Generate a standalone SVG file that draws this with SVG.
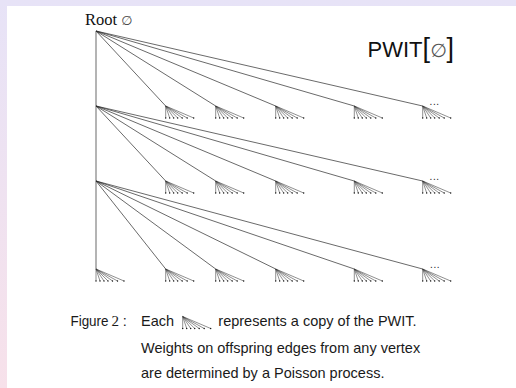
<svg xmlns="http://www.w3.org/2000/svg" xmlns:xlink="http://www.w3.org/1999/xlink" width="516" height="388" viewBox="0 0 516 388">
<defs>
<linearGradient id="bg" x1="0" y1="0" x2="0" y2="1">
<stop offset="0" stop-color="#e7e3f7"/>
<stop offset="1" stop-color="#f7e1ea"/>
</linearGradient>
<g id="sub">
<path d="M0 0V12M0 0L4 12M0 0L8 12M0 0L12 12M0 0L16.5 12M0 0L21.5 12M0 0L28 12" fill="none" stroke="#333" stroke-width="0.55"/>
<g fill="#111"><circle cx="0" cy="12" r="0.7"/><circle cx="4" cy="12" r="0.7"/><circle cx="8" cy="12" r="0.7"/><circle cx="12" cy="12" r="0.7"/><circle cx="16.5" cy="12" r="0.7"/><circle cx="21.5" cy="12" r="0.7"/><circle cx="28" cy="12" r="0.7"/></g>
</g>
</defs>
<style>
.e{stroke:#2a2a2a;stroke-width:0.7;fill:none}
.cap{font-family:"Liberation Sans",Arial,sans-serif;font-size:14.5px;fill:#1a1a1a}
.dots{font-family:"Liberation Sans",Arial,sans-serif;font-size:10px;letter-spacing:0.6px;fill:#222}
.ser{font-family:"Liberation Serif","DejaVu Serif",serif}
</style>
<rect width="516" height="388" fill="url(#bg)"/>
<rect x="7" y="6" width="509" height="382" fill="#ffffff"/>

<g id="connectors">
<path class="e" d="M96 31V269"/>
<path class="e" d="M96 31L165.7 106M96 31L215.7 106M96 31L275.7 106M96 31L354.3 106M96 31L422.7 106"/>
<path class="e" d="M96 106L165.7 181M96 106L215.7 181M96 106L275.7 181M96 106L354.3 181M96 106L422.7 181"/>
<path class="e" d="M96 181L165.7 269M96 181L215.7 269M96 181L275.7 269M96 181L354.3 269M96 181L422.7 269"/>
</g>

<g id="root">
<text class="ser" x="85" y="25" font-size="16.5" fill="#111">Root <tspan font-family="'DejaVu Sans',sans-serif" font-size="13" fill="#444">∅</tspan></text>
</g>

<g id="title">
<text y="57.3" font-family="'Liberation Sans',Arial,sans-serif" fill="#111"><tspan x="367.5" font-size="22">PWIT</tspan><tspan x="422.5" font-size="27">[</tspan><tspan x="430.2" font-family="'DejaVu Sans',sans-serif" font-size="19" fill="#555">∅</tspan><tspan x="446.5" font-size="27">]</tspan></text>
</g>

<g id="row1">
<use xlink:href="#sub" x="165.7" y="106"/>
<use xlink:href="#sub" x="215.7" y="106"/>
<use xlink:href="#sub" x="275.7" y="106"/>
<use xlink:href="#sub" x="354.3" y="106"/>
<use xlink:href="#sub" x="422.7" y="106"/>
<text class="dots" x="429.5" y="105">...</text>
</g>
<g id="row2">
<use xlink:href="#sub" x="165.7" y="181"/>
<use xlink:href="#sub" x="215.7" y="181"/>
<use xlink:href="#sub" x="275.7" y="181"/>
<use xlink:href="#sub" x="354.3" y="181"/>
<use xlink:href="#sub" x="422.7" y="181"/>
<text class="dots" x="429.5" y="180">...</text>
</g>
<g id="row3">
<use xlink:href="#sub" x="96" y="269"/>
<use xlink:href="#sub" x="165.7" y="269"/>
<use xlink:href="#sub" x="215.7" y="269"/>
<use xlink:href="#sub" x="275.7" y="269"/>
<use xlink:href="#sub" x="354.3" y="269"/>
<use xlink:href="#sub" x="422.7" y="269"/>
<text class="dots" x="430" y="268">...</text>
</g>

<g id="caption">
<text class="cap" y="326"><tspan x="70.5" textLength="38" lengthAdjust="spacingAndGlyphs">Figure</tspan><tspan class="ser" x="111.5" font-size="15">2</tspan><tspan x="122.8">:</tspan></text>
<text class="cap" x="141" y="326">Each</text>
<use xlink:href="#sub" x="182.7" y="316.5"/>
<text class="cap" x="218.3" y="326">represents a copy of the PWIT.</text>
<text class="cap" x="141" y="352.5">Weights on offspring edges from any vertex</text>
<text class="cap" x="141" y="378.3">are determined by a Poisson process.</text>
</g>
</svg>
